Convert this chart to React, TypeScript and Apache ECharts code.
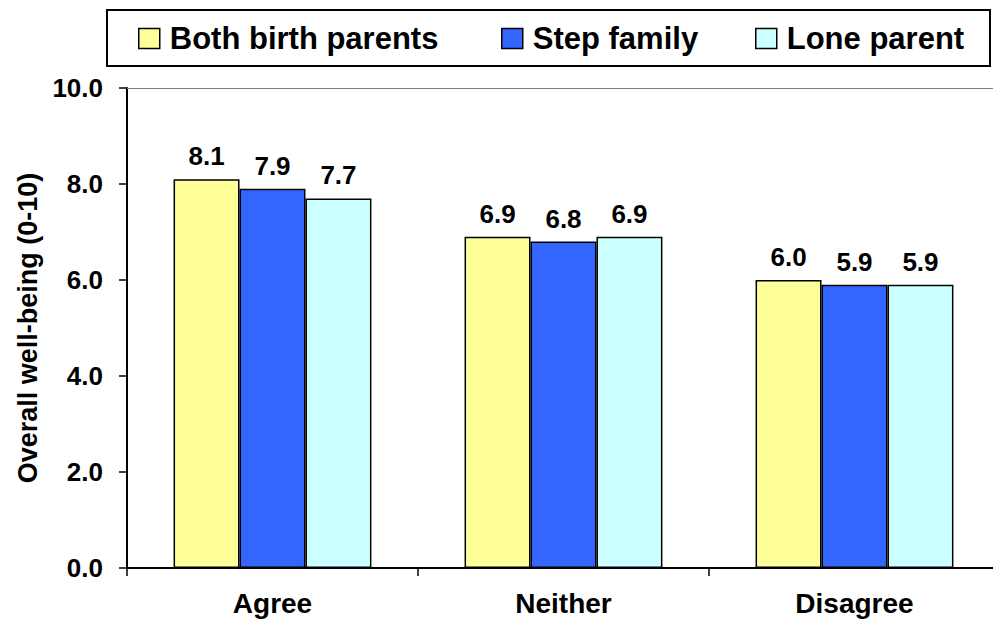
import React, { useEffect, useRef } from "react";
import * as echarts from "echarts";

const categories = ["Agree", "Neither", "Disagree"];
const seriesNames = ["Both birth parents", "Step family", "Lone parent"];
const bothBirthParents = [8.1, 6.9, 6.0];
const stepFamily = [7.9, 6.8, 5.9];
const loneParent = [7.7, 6.9, 5.9];
const seriesColors = ["#FFFF99", "#3366FF", "#CCFFFF"];
const yTicks = [0, 2, 4, 6, 8, 10];

const FONT = "'Liberation Sans', Arial, Helvetica, sans-serif";

export default function App() {
  const ref = useRef<HTMLDivElement>(null);

  useEffect(() => {
    if (!ref.current) return;
    const chart = echarts.init(ref.current, undefined, { renderer: "svg" });
    const values = [bothBirthParents, stepFamily, loneParent];
    const legendLefts = [138, 501, 755];

    const series: any[] = seriesNames.map((name, i) => ({
      name,
      type: "bar",
      data: values[i],
      barGap: "0%",
      barCategoryGap: "32%",
      itemStyle: { color: seriesColors[i], borderColor: "#000", borderWidth: 1.5 },
      label: {
        show: true,
        position: "top",
        distance: 10,
        formatter: (p: any) => Number(p.value).toFixed(1),
        fontFamily: FONT,
        fontWeight: "bold",
        fontSize: 26,
        color: "#000",
      },
      ...(i === 0
        ? {
            markLine: {
              silent: true,
              symbol: "none",
              label: { show: false },
              lineStyle: { color: "#808080", width: 1, type: "solid" },
              data: [{ yAxis: yTicks[yTicks.length - 1] }],
            },
          }
        : {}),
    }));

    chart.setOption({
      animation: false,
      textStyle: { fontFamily: FONT },
      grid: { left: 127, top: 88, bottom: 52, right: 0, containLabel: false },
      legend: seriesNames.map((name, i) => ({
        data: [name],
        left: legendLefts[i],
        top: 23,
        padding: 0,
        icon: "rect",
        itemWidth: 21,
        itemHeight: 20,
        itemStyle: { borderColor: "#000", borderWidth: 1.5 },
        selectedMode: false,
        textStyle: {
          fontFamily: FONT,
          fontWeight: "bold",
          fontSize: 31,
          color: "#000",
          lineHeight: 30,
          padding: [0, 0, 0, 5],
        },
      })),
      graphic: [
        {
          type: "rect",
          shape: { x: 107, y: 10, width: 883, height: 56 },
          style: { fill: "none", stroke: "#000", lineWidth: 2 },
          silent: true,
        },
      ],
      xAxis: {
        type: "category",
        data: categories,
        axisLine: { show: true, lineStyle: { color: "#000", width: 2 } },
        axisTick: { show: true, length: 8, lineStyle: { color: "#000", width: 1.5 } },
        axisLabel: {
          margin: 21,
          fontFamily: FONT,
          fontWeight: "bold",
          fontSize: 28,
          color: "#000",
        },
      },
      yAxis: {
        type: "value",
        min: 0,
        max: 10,
        interval: 2,
        name: "Overall well-being (0-10)",
        nameLocation: "middle",
        nameGap: 84,
        nameTextStyle: { fontFamily: FONT, fontWeight: "bold", fontSize: 27, color: "#000" },
        axisLine: { show: true, lineStyle: { color: "#000", width: 2 } },
        axisTick: { show: true, length: 8, lineStyle: { color: "#000", width: 1.5 } },
        splitLine: { show: false },
        axisLabel: {
          margin: 24,
          fontFamily: FONT,
          fontWeight: "bold",
          fontSize: 26,
          color: "#000",
          formatter: (v: number) => v.toFixed(1),
        },
      },
      series,
    });

    return () => chart.dispose();
  }, []);

  return (
    <div style={{ position: "fixed", left: 0, top: 0, width: 993, height: 620, overflow: "hidden", background: "#fff" }}>
      <div ref={ref} style={{ position: "absolute", left: 0, top: 0, width: 1000, height: 620 }} />
    </div>
  );
}
